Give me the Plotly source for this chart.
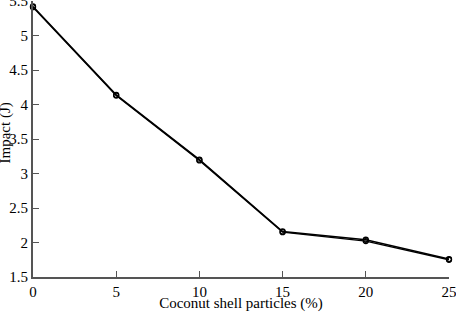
import plotly.graph_objects as go

x_vals = [0, 5, 10, 15, 20, 25]
impact_a = [5.42, 4.14, 3.20, 2.16, 2.04, 1.76]
impact_b = [5.41, 4.13, 3.19, 2.15, 2.02, 1.75]
x_ticks = [0, 5, 10, 15, 20, 25]
y_ticks = [1.5, 2, 2.5, 3, 3.5, 4, 4.5, 5, 5.5]

fig = go.Figure()
for ys in (impact_a, impact_b):
    fig.add_trace(go.Scatter(
        x=x_vals, y=ys, mode="lines+markers",
        line=dict(color="black", width=1.5),
        marker=dict(symbol="circle-open", size=5, color="black", line=dict(width=1.3)),
        showlegend=False, cliponaxis=False,
    ))

font = dict(family="Times New Roman", size=15, color="black")
fig.update_layout(
    width=456, height=312,
    margin=dict(l=33, r=7, t=1, b=35),
    paper_bgcolor="white", plot_bgcolor="white",
    font=font,
)
fig.update_xaxes(
    range=[0, 25], tickvals=x_ticks, ticktext=[str(v) for v in x_ticks],
    ticks="inside", ticklen=6, tickcolor="#555", tickwidth=1,
    ticklabeloverflow="allow", tickfont=font, automargin=False,
    showline=True, linecolor="#555", linewidth=2, showgrid=False, zeroline=False,
    title=dict(text="Coconut shell particles (%)", standoff=5, font=font),
)
fig.update_yaxes(
    range=[1.5, 5.5], tickvals=y_ticks, ticktext=[f"{v:g}" for v in y_ticks],
    ticks="inside", ticklen=6, tickcolor="#555", tickwidth=1,
    ticklabeloverflow="allow", tickfont=font, automargin=False,
    showline=True, linecolor="#555", linewidth=2, showgrid=False, zeroline=False,
)
fig.add_annotation(
    text="Impact (J)", textangle=-90, font=font, showarrow=False,
    xref="paper", yref="paper", x=0, y=0.52, xanchor="center", yanchor="middle",
    xshift=-28,
)
fig.write_html("out.html")
